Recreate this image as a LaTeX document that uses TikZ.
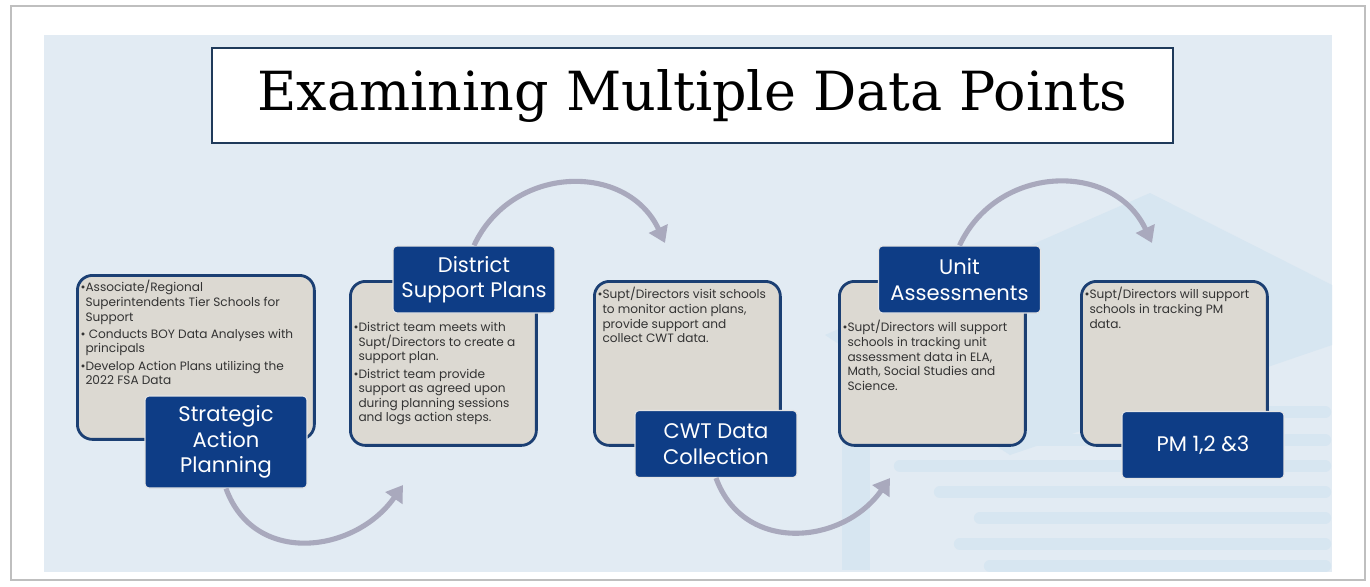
\documentclass[tikz,border=0pt]{standalone}
\usepackage{fontspec}
\newfontfamily\gothic{Poppins}
\newfontfamily\titlefont{DejaVu Serif}
\usepackage{xcolor}
\usetikzlibrary{arrows.meta,positioning}
\definecolor{panel}{HTML}{E2EBF3}
\definecolor{wmark}{HTML}{D7E6F1}
\definecolor{titleline}{HTML}{1F3A5A}
\definecolor{boxfill}{HTML}{DCD9D2}
\definecolor{boxline}{HTML}{1B3F73}
\definecolor{labelfill}{HTML}{0E3D86}
\definecolor{arrowgray}{HTML}{A9A9BD}
\newcommand\bl{\textbullet}
\newcommand\ind{\phantom{\textbullet}}

\begin{document}
\begin{tikzpicture}[x=0.02cm,y=-0.02cm,>={Triangle[width=0.4cm,length=0.32cm]},
                    semithick]
  \tikzstyle{graybox}=[draw=boxline,line width=1.6pt,fill=boxfill,rounded corners=0.3cm,
                       minimum width=3.72cm,minimum height=3.28cm,anchor=north west]
  \tikzstyle{bluebox}=[fill=labelfill,draw=white!80!gray,line width=0.6pt,rounded corners=0.08cm,
                       text=white,align=center,minimum width=3.24cm,minimum height=1.34cm,
                       inner sep=1pt,font=\gothic\fontsize{12}{14.5}\selectfont]
  \tikzstyle{bullets}=[anchor=north west,align=left,inner sep=0pt,text=black!80,
                       font=\gothic\fontsize{6.9}{8.3}\selectfont]
  \tikzstyle{curvearrow}=[->,draw=arrowgray,line width=2.9pt,looseness=1.2]

  \useasboundingbox (0,0) rectangle (1370,586);
  \fill[white] (0,0) rectangle (1370,586);
  \draw[gray!50,line width=0.6pt] (11,6) rectangle (1365,580);
  \fill[panel] (44,35) rectangle (1332,572);

  % faint cap in the background
  \fill[wmark] (825,335) -- (1150,193) -- (1332,285) -- (1332,345) -- (1010,455) -- cycle;
  \fill[wmark] (842,420) rectangle (870,570);
  \foreach \y/\a in {412/960,440/930,466/900,492/940,518/980,544/960,566/990}
    \draw[wmark,line width=7pt,line cap=round] (\a,\y) -- (1325,\y);

  \node[draw=titleline,line width=1.4pt,fill=white,minimum width=19.22cm,minimum height=1.9cm]
    (title) at (692.5,95.5) {\titlefont\fontsize{30.7}{35}\selectfont Examining Multiple Data Points};

  \node[graybox,minimum width=4.74cm] (g1) at (76,274) {};
  \node[graybox] (g2) at (349,280) {};
  \node[graybox] (g3) at (593,280) {};
  \node[graybox] (g4) at (838,280) {};
  \node[graybox] (g5) at (1080,280) {};

  \node[bullets,below right=0.12cm and 0.08cm of g1.north west] (t1)
    {\bl Associate/Regional\\\ind Superintendents Tier Schools for\\\ind Support\\[1.5pt]
     \bl{} Conducts BOY Data Analyses with\\\ind principals\\[1.5pt]
     \bl Develop Action Plans utilizing the\\\ind 2022 FSA Data};
  \node[bullets,below right=0.84cm and 0.08cm of g2.north west] (t2)
    {\bl District team meets with\\\ind Supt/Directors to create a\\\ind support plan.\\[1.5pt]
     \bl District team provide\\\ind support as agreed upon\\\ind during planning sessions\\\ind and logs action steps.};
  \node[bullets,below right=0.14cm and 0.08cm of g3.north west] (t3)
    {\bl Supt/Directors visit schools\\\ind to monitor action plans,\\\ind provide support and\\\ind collect CWT data.};
  \node[bullets,below right=0.8cm and 0.08cm of g4.north west] (t4)
    {\bl Supt/Directors will support\\\ind schools in tracking unit\\\ind assessment data in ELA,\\\ind Math, Social Studies and\\\ind Science.};
  \node[bullets,below right=0.14cm and 0.08cm of g5.north west] (t5)
    {\bl Supt/Directors will support\\\ind schools in tracking PM\\\ind data.};

  \node[bluebox,minimum height=1.84cm] (l1) at (226,442) {Strategic\\Action\\Planning};
  \node[bluebox] (l2) at (474,279.5) {District\\Support Plans};
  \node[bluebox] (l3) at (716,444) {CWT Data\\Collection};
  \node[bluebox] (l4) at (959.5,279.5) {Unit\\Assessments};
  \node[bluebox] (l5) at (1203,445) {PM 1,2 \&3};

  \coordinate (e1) at (403,485);
  \coordinate (e2) at (665,243);
  \coordinate (e3) at (890,478);
  \coordinate (e4) at (1152,243);

  \path (l1.south) edge[curvearrow,out=-70,in=-125] (e1)
        (l2.north) edge[curvearrow,out=65,in=115]   (e2)
        (l3.south) edge[curvearrow,out=-70,in=-125] (e3)
        (l4.north) edge[curvearrow,out=65,in=115]   (e4);
\end{tikzpicture}
\end{document}
